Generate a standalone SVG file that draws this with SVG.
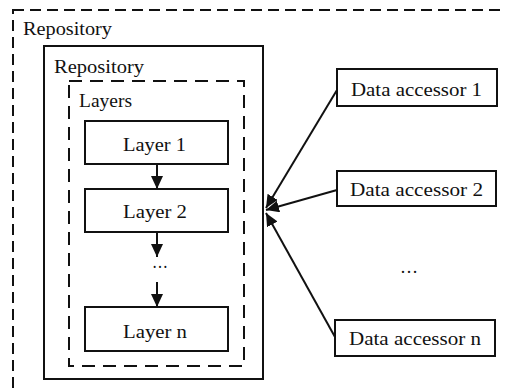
<svg xmlns="http://www.w3.org/2000/svg" width="506" height="392" viewBox="0 0 506 392" font-family="'Liberation Serif', 'Times New Roman', 'DejaVu Serif', serif">
<style>
text{font-family:"Liberation Serif","Times New Roman","DejaVu Serif",serif;font-size:18px;fill:#111;}
.box{fill:#fff;stroke:#111;stroke-width:2;}
.dash{fill:none;stroke:#111;stroke-width:2;}
.con{stroke:#111;stroke-width:2;fill:none;}
</style>
<defs>
<marker id="ah" markerUnits="userSpaceOnUse" markerWidth="14" markerHeight="13" refX="13" refY="6" orient="auto">
<path d="M0,0 L13,6 L0,12 z" fill="#111"/>
</marker>
</defs>
<rect width="506" height="392" fill="#fff"/>
<g id="outer-repository">
<rect class="dash" x="13" y="10" width="520" height="400" stroke-dasharray="11 6"/>
<text x="23" y="35" textLength="89" lengthAdjust="spacingAndGlyphs">Repository</text>
</g>
<g id="inner-repository">
<rect class="box" x="44" y="46" width="219" height="333"/>
<text x="54" y="73" textLength="90" lengthAdjust="spacingAndGlyphs">Repository</text>
</g>
<g id="layers">
<rect class="dash" x="69" y="81" width="175" height="285" stroke-dasharray="13 8"/>
<text x="79" y="107" textLength="53" lengthAdjust="spacingAndGlyphs">Layers</text>
</g>
<g id="layer1">
<rect class="box" x="85" y="121" width="143" height="43"/>
<text x="123" y="151" textLength="63" lengthAdjust="spacingAndGlyphs">Layer  1</text>
</g>
<g id="layer2">
<rect class="box" x="85" y="189" width="143" height="43"/>
<text x="123" y="218" textLength="64" lengthAdjust="spacingAndGlyphs">Layer  2</text>
</g>
<g id="layer-dots">
<text x="152" y="268" textLength="16" lengthAdjust="spacingAndGlyphs">…</text>
</g>
<g id="layern">
<rect class="box" x="85" y="307" width="143" height="44"/>
<text x="123" y="338" textLength="64" lengthAdjust="spacingAndGlyphs">Layer  n</text>
</g>
<g id="da1">
<rect class="box" x="337" y="69" width="160" height="37"/>
<text x="351" y="96" textLength="131" lengthAdjust="spacingAndGlyphs">Data accessor 1</text>
</g>
<g id="da2">
<rect class="box" x="337" y="171" width="159" height="35"/>
<text x="350" y="196" textLength="133" lengthAdjust="spacingAndGlyphs">Data accessor 2</text>
</g>
<g id="da-dots">
<text x="400" y="273" textLength="18" lengthAdjust="spacingAndGlyphs">…</text>
</g>
<g id="dan">
<rect class="box" x="335" y="320" width="160" height="36"/>
<text x="349" y="345" textLength="132" lengthAdjust="spacingAndGlyphs">Data accessor n</text>
</g>
<g id="connectors">
<line class="con" x1="157" y1="164" x2="157" y2="189" marker-end="url(#ah)"/>
<line class="con" x1="157" y1="232" x2="157" y2="257" marker-end="url(#ah)"/>
<line class="con" x1="157" y1="282" x2="157" y2="307" marker-end="url(#ah)"/>
<line class="con" x1="337" y1="90" x2="266" y2="208" marker-end="url(#ah)"/>
<line class="con" x1="337" y1="190" x2="266" y2="210" marker-end="url(#ah)"/>
<line class="con" x1="335" y1="337" x2="266" y2="213" marker-end="url(#ah)"/>
</g>
</svg>
